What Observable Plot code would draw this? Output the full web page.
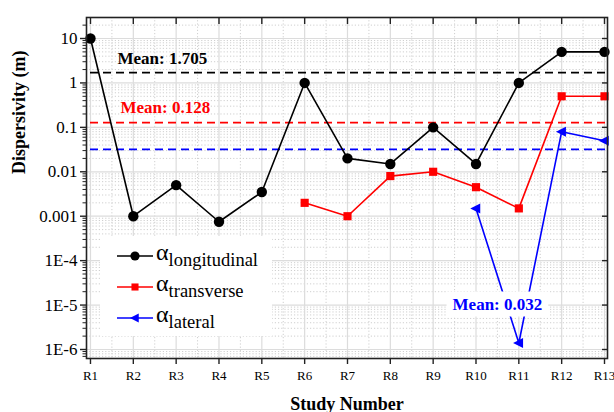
<!DOCTYPE html>
<html><head><meta charset="utf-8">
<script src="https://cdn.jsdelivr.net/npm/d3@7"></script>
<script src="https://cdn.jsdelivr.net/npm/@observablehq/plot@0.6"></script>
<style>
body{margin:0;background:#fff;}
#wrap{position:relative;width:614px;height:412px;}
#legend{position:absolute;left:0;top:0;pointer-events:none;}
</style></head><body><div id="wrap"></div>
<script>
// ---- data ----
const studies = ["R1","R2","R3","R4","R5","R6","R7","R8","R9","R10","R11","R12","R13"];
const longitudinal = [10, 0.001, 0.005, 0.00075, 0.0035, 1, 0.02, 0.015, 0.1, 0.015, 1, 5, 5];
const transverse   = [null, null, null, null, null, 0.002, 0.001, 0.008, 0.01, 0.0045, 0.0015, 0.5, 0.5];
const lateral      = [null, null, null, null, null, null, null, null, null, 0.0015, 1.4e-6, 0.08, 0.05];
const seriesNames = ["longitudinal", "transverse", "lateral"];
const seriesColors = ["#000000", "#ff0000", "#0000ff"];
const means = [1.705, 0.128, 0.032];
const meanLabels = ["Mean: 1.705", "Mean: 0.128", "Mean: 0.032"];
const yTicks = [1e-6, 1e-5, 1e-4, 0.001, 0.01, 0.1, 1, 10];
const yTickLabels = ["1E-6", "1E-5", "1E-4", "0.001", "0.01", "0.1", "1", "10"];

// ---- derived tables ----
const seriesValues = [longitudinal, transverse, lateral];
const rows = [];
seriesValues.forEach((vals, s) => vals.forEach((v, i) => {
  if (v != null) rows.push({series: seriesNames[s], i: i + 1, value: v});
}));
const bySeries = name => rows.filter(d => d.series === name);
const xIdx = studies.map((_, i) => i + 1);
const xMinor = xIdx.slice(0, -1).map(i => i + 0.5);
const yDomain = [6.27e-7, 29.7];
const yMinor = [];
for (let e = -7; e <= 1; e++) for (let m = 2; m <= 9; m++) {
  const v = m * Math.pow(10, e);
  if (v > yDomain[0] && v < yDomain[1]) yMinor.push(v);
}
const meanRows = means.map((m, k) => ({value: m, color: seriesColors[k], label: meanLabels[k]}));
const yLabelOf = v => yTickLabels[yTicks.indexOf(v)] ?? "";

const triLeft = {
  draw(ctx, size) {
    const r = Math.sqrt(size / Math.PI);
    ctx.moveTo(-1.15 * r, 0);
    ctx.lineTo(0.85 * r, -r);
    ctx.lineTo(0.85 * r, r);
    ctx.closePath();
  }
};

const serif = "'Liberation Serif', 'Times New Roman', serif";

const chart = Plot.plot({
  width: 614,
  height: 412,
  marginLeft: 86,
  marginRight: 7,
  marginTop: 17,
  marginBottom: 54,
  style: {fontFamily: serif, background: "#fff", overflow: "visible"},
  x: {type: "linear", domain: [0.907, 13.07], label: null},
  y: {type: "log", domain: yDomain, label: null},
  marks: [
    // grid
    Plot.ruleX(xMinor, {stroke: "#cfcfcf", strokeDasharray: "1.2,2", strokeWidth: 1}),
    Plot.ruleY(yMinor, {stroke: "#cfcfcf", strokeDasharray: "1.2,2", strokeWidth: 1}),
    Plot.ruleX(xIdx, {stroke: "#dcdcdc", strokeWidth: 1.2}),
    Plot.ruleY(yTicks, {stroke: "#dcdcdc", strokeWidth: 1.2}),
    // mean lines
    Plot.ruleY(meanRows, {y: "value", stroke: "color", strokeDasharray: "8,5", strokeWidth: 1.6, insetLeft: 4}),
    // series lines
    Plot.line(bySeries("longitudinal"), {x: "i", y: "value", stroke: seriesColors[0], strokeWidth: 1.6}),
    Plot.line(bySeries("transverse"), {x: "i", y: "value", stroke: seriesColors[1], strokeWidth: 1.6}),
    Plot.line(bySeries("lateral"), {x: "i", y: "value", stroke: seriesColors[2], strokeWidth: 1.6}),
    // markers
    Plot.dot(bySeries("longitudinal"), {x: "i", y: "value", r: 5.2, fill: seriesColors[0], symbol: "circle"}),
    Plot.dot(bySeries("transverse"), {x: "i", y: "value", r: 4.6, fill: seriesColors[1], symbol: "square"}),
    Plot.dot(bySeries("lateral"), {x: "i", y: "value", r: 5, fill: seriesColors[2], symbol: triLeft}),
    // mean labels
    Plot.text([meanRows[0]], {x: () => 1, y: "value", text: "label", fill: "color", fontWeight: "bold", fontSize: 17, textAnchor: "start", lineAnchor: "bottom", dx: 27, dy: -9}),
    Plot.text([meanRows[1]], {x: () => 1, y: "value", text: "label", fill: "color", fontWeight: "bold", fontSize: 17, textAnchor: "start", lineAnchor: "bottom", dx: 30, dy: -10}),
    Plot.text([meanRows[2]], {x: () => 10.5, y: () => 1e-5, text: "label", fill: "color", fontWeight: "bold", fontSize: 17, lineAnchor: "middle", dy: -1}),
    // frame
    Plot.frame({stroke: "#222", strokeWidth: 1.6}),
    // axes
    Plot.axisX(xIdx, {anchor: "bottom", label: null, tickSize: 6, tickPadding: 6, tickFormat: i => studies[i - 1], fontSize: 13, stroke: "#222", strokeWidth: 1.4}),
    Plot.axisX(xIdx, {anchor: "top", label: null, tickSize: 6, dy: 6, tickFormat: () => "", stroke: "#222", strokeWidth: 1.4}),
    Plot.axisY(yTicks, {anchor: "left", label: null, tickSize: 6, tickPadding: 3, tickFormat: yLabelOf, fontSize: 17, stroke: "#222", strokeWidth: 1.4}),
    Plot.axisY(yMinor, {anchor: "left", label: null, tickSize: 3.5, tickFormat: () => "", stroke: "#222", strokeWidth: 1}),
    Plot.axisY(yTicks, {anchor: "right", label: null, tickSize: 6, dx: -6, tickFormat: () => "", stroke: "#222", strokeWidth: 1.4}),
    // axis titles
    Plot.text(["Dispersivity (m)"], {frameAnchor: "left", text: d => d, rotate: -90, dx: -67, dy: -14, fontWeight: "bold", fontSize: 18, lineAnchor: "middle"}),
    Plot.text(["Study Number"], {frameAnchor: "bottom", text: d => d, dy: 51, fontWeight: "bold", fontSize: 18, lineAnchor: "bottom"})
  ]
});

const wrap = document.getElementById("wrap");
wrap.append(chart);

// white box behind the lateral mean label
d3.select(chart).selectAll("text").each(function() {
  if (this.textContent === meanLabels[2]) {
    const b = this.getBBox();
    const rect = document.createElementNS("http://www.w3.org/2000/svg", "rect");
    rect.setAttribute("x", b.x - 6);
    rect.setAttribute("y", b.y - 3);
    rect.setAttribute("width", b.width + 12);
    rect.setAttribute("height", b.height + 6);
    rect.setAttribute("fill", "#fff");
    const t = this.getAttribute("transform");
    if (t) rect.setAttribute("transform", t);
    this.parentNode.insertBefore(rect, this);
  }
});

// legend overlay
const lg = d3.select(wrap).append("svg").attr("id", "legend").attr("width", 614).attr("height", 412);
lg.append("rect").attr("x", 100).attr("y", 236).attr("width", 172).attr("height", 100).attr("fill", "#fff");
const symbols = [d3.symbolCircle, d3.symbolSquare, triLeft];
const symSizes = [Math.PI * 4.6 * 4.6, Math.PI * 4.0 * 4.0, Math.PI * 4.4 * 4.4];
seriesNames.forEach((name, k) => {
  const y = 256 + k * 31;
  const g = lg.append("g");
  g.append("line").attr("x1", 117).attr("x2", 153).attr("y1", y).attr("y2", y).attr("stroke", seriesColors[k]).attr("stroke-width", 1.6);
  g.append("path").attr("transform", `translate(135,${y})`).attr("d", d3.symbol(symbols[k], symSizes[k])()).attr("fill", seriesColors[k]);
  const t = g.append("text").attr("x", 156).attr("y", y + 4).attr("font-family", serif).attr("fill", "#000");
  t.append("tspan").attr("font-size", 24).text("α");
  t.append("tspan").attr("font-size", 18.5).attr("dy", 6).text(name);
});
</script></body></html>
